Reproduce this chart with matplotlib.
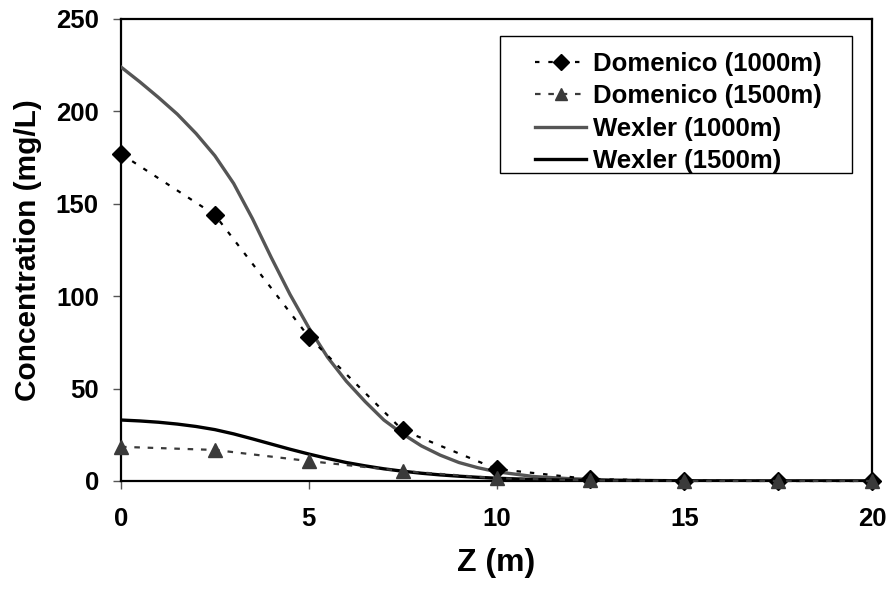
import matplotlib
matplotlib.use("Agg")
import matplotlib.pyplot as plt
from matplotlib.patches import Rectangle

# Data
z_dom = [0, 2.5, 5, 7.5, 10, 12.5, 15, 17.5, 20]
dom_1000 = [177, 144, 78, 27.5, 6.5, 1.0, 0.2, 0.0, 0.0]
dom_1500 = [18.5, 16.8, 10.8, 5.4, 1.5, 0.3, 0.0, 0.0, 0.0]

z_wex = [0, 0.5, 1, 1.5, 2, 2.5, 3, 3.5, 4, 4.5, 5, 5.5, 6, 6.5, 7, 7.5, 8, 8.5, 9,
         9.5, 10, 11, 12, 13, 14, 15, 16, 17, 18, 19, 20]
wex_1000 = [224, 216, 207.5, 198.5, 188, 176, 161, 142, 121, 101, 83, 67, 54, 43, 33, 25.5,
            19, 14, 10, 7.2, 5.0, 2.4, 1.2, 0.6, 0.3, 0.1, 0.05, 0.0, 0.0, 0.0, 0.0]
wex_1500 = [33, 32.5, 31.8, 30.8, 29.5, 27.8, 25.5, 22.8, 20, 17.2, 14.6, 12.2, 10, 8.2,
            6.6, 5.3, 4.2, 3.3, 2.6, 2.0, 1.5, 0.8, 0.4, 0.2, 0.1, 0.05, 0.0, 0.0, 0.0, 0.0, 0.0]

labels = ["Domenico (1000m)", "Domenico (1500m)", "Wexler (1000m)", "Wexler (1500m)"]

plt.rcParams['font.family'] = ['Liberation Sans', 'DejaVu Sans']
plt.rcParams['font.weight'] = 'bold'

W, H = 890, 592
fig = plt.figure(figsize=(W/100, H/100), dpi=100)
ax = fig.add_axes([121/W, 1-481/H, (872-121)/W, (481-19)/H])

ax.plot(z_dom, dom_1000, color='black', lw=1.6, linestyle=(0, (2, 4)),
        marker='D', markersize=9.5, markerfacecolor='black', markeredgecolor='black',
        label=labels[0], zorder=4, clip_on=False)
ax.plot(z_dom, dom_1500, color='#3a3a3a', lw=1.6, linestyle=(0, (2.5, 3.5)),
        marker='^', markersize=10.5, markerfacecolor='#3a3a3a', markeredgecolor='#3a3a3a',
        label=labels[1], zorder=4, clip_on=False)
ax.plot(z_wex, wex_1000, color='#555555', lw=2.4, label=labels[2], zorder=3)
ax.plot(z_wex, wex_1500, color='black', lw=2.4, label=labels[3], zorder=3)

ax.set_xlim(0, 20)
ax.set_ylim(0, 250)
ax.set_xticks([0, 5, 10, 15, 20])
ax.set_yticks([0, 50, 100, 150, 200, 250])

for s in ax.spines.values():
    s.set_linewidth(1.6)
    s.set_color('black')

ax.tick_params(axis='both', direction='out', length=6, width=1, color='#555555',
               labelsize=18.5, pad=10)
ax.tick_params(axis='x', pad=13)
for lab in ax.get_xticklabels() + ax.get_yticklabels():
    lab.set_fontweight('bold')

ax.set_xlabel("Z (m)", fontsize=23, fontweight='bold', labelpad=12)
ax.set_ylabel("Concentration (mg/L)", fontsize=21.5, fontweight='bold', labelpad=10)

# legend frame
frame = Rectangle((500/W, 1-173/H), 352/W, 137/H, transform=fig.transFigure,
                  facecolor='white', edgecolor='black', lw=1.0, zorder=5, clip_on=False)
ax.add_patch(frame)

leg = ax.legend(loc='upper left', bbox_to_anchor=(535/W, 1-52/H),
                bbox_transform=fig.transFigure, prop={'weight': 'bold', 'size': 18.5},
                frameon=False, handlelength=2.0, handletextpad=0.25,
                borderpad=0, labelspacing=0.33, borderaxespad=0)
leg.set_zorder(6)
for h in leg.legend_handles:
    h.set_markersize(8.5)

fig.savefig("out.png", dpi=100)
